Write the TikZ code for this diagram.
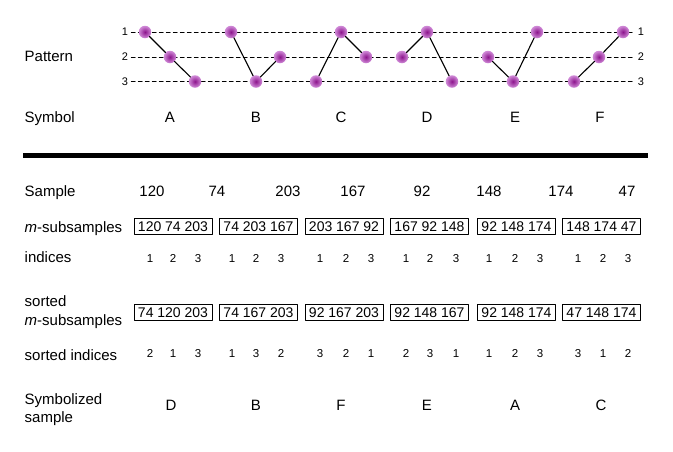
\documentclass[tikz,border=0pt]{standalone}
\usepackage{fontspec}
\setmainfont{Liberation Sans}
\usepackage{tikz}
\definecolor{ccqqcc}{rgb}{0.55,0.08,0.55}
\definecolor{eeaaee}{rgb}{0.82,0.55,0.85}
\tikzset{
  dot/.style={circle,inner sep=0pt,minimum size=12.5pt,shading=radial,inner color=ccqqcc,outer color=eeaaee},
  seg/.style={line width=1.1pt},
  guide/.style={line width=0.7pt,dash pattern=on 4pt off 3pt},
  num/.style={font=\fontsize{11}{13}\selectfont,inner sep=3pt},
  lab/.style={anchor=base west,inner sep=0pt,font=\fontsize{15}{18}\selectfont},
  val/.style={anchor=base,inner sep=0pt,font=\fontsize{15}{18}\selectfont},
  idx/.style={anchor=base,inner sep=0pt,font=\fontsize{11.5}{13}\selectfont},
  subbox/.style={draw,line width=0.8pt,inner sep=0pt,minimum width=78pt,minimum height=16pt,font=\fontsize{14}{16}\selectfont}
}
\begin{document}
\begin{tikzpicture}[line cap=round,line join=round,x=1pt,y=-1pt]
\useasboundingbox (0,0) rectangle (673,451);
% pattern levels
\node[num] (l1) at (125,32) {1};
\node[num] (l2) at (125,57) {2};
\node[num] (l3) at (125,81.5) {3};
\node[num] (r1) at (641,32) {1};
\node[num] (r2) at (641,57) {2};
\node[num] (r3) at (641,81.5) {3};
\draw[guide] (l1) -- (r1);
\draw[guide] (l2) -- (r2);
\draw[guide] (l3) -- (r3);
\node[lab] (pattern) at (24.5,61) {Pattern};
\node[lab] (symbol) at (24.5,122) {Symbol};
% the six patterns
\node[dot] (a1) at (145,32) {};
\node[dot] (a2) at (170,57) {};
\node[dot] (a3) at (195,81.5) {};
\node[dot] (b1) at (231,32) {};
\node[dot] (b2) at (256,81.5) {};
\node[dot] (b3) at (280,57) {};
\node[dot] (c1) at (316,81.5) {};
\node[dot] (c2) at (341,32) {};
\node[dot] (c3) at (366,57) {};
\node[dot] (d1) at (402,57) {};
\node[dot] (d2) at (427,32) {};
\node[dot] (d3) at (452,81.5) {};
\node[dot] (e1) at (488,57) {};
\node[dot] (e2) at (513,81.5) {};
\node[dot] (e3) at (537,32) {};
\node[dot] (f1) at (574,81.5) {};
\node[dot] (f2) at (599,57) {};
\node[dot] (f3) at (623,32) {};
\draw[seg] (a1) -- (a2); \draw[seg] (a2) -- (a3);
\draw[seg] (b1) -- (b2); \draw[seg] (b2) -- (b3);
\draw[seg] (c1) -- (c2); \draw[seg] (c2) -- (c3);
\draw[seg] (d1) -- (d2); \draw[seg] (d2) -- (d3);
\draw[seg] (e1) -- (e2); \draw[seg] (e2) -- (e3);
\draw[seg] (f1) -- (f2); \draw[seg] (f2) -- (f3);
\node[val] (sA) at (170,122) {A};
\node[val] (sB) at (256,122) {B};
\node[val] (sC) at (341,122) {C};
\node[val] (sD) at (427,122) {D};
\node[val] (sE) at (515,122) {E};
\node[val] (sF) at (600,122) {F};
% separator
\draw[line width=4.5pt,line cap=butt] (23,155.5) -- (648,155.5);
% sample
\node[lab] (sample) at (24.5,196) {Sample};
\node[val] (x1) at (152,196) {120};
\node[val] (x2) at (217,196) {74};
\node[val] (x3) at (288,196) {203};
\node[val] (x4) at (353,196) {167};
\node[val] (x5) at (422,196) {92};
\node[val] (x6) at (489,196) {148};
\node[val] (x7) at (561,196) {174};
\node[val] (x8) at (627,196) {47};
% m-subsamples
\node[lab] (msub) at (24.5,232.5) {\textit{m}-subsamples};
\node[subbox] (m1) at (173,226.3) {120 74 203};
\node[subbox] (m2) at (258.5,226.3) {74 203 167};
\node[subbox] (m3) at (344,226.3) {203 167 92};
\node[subbox] (m4) at (429.5,226.3) {167 92 148};
\node[subbox] (m5) at (516.5,226.3) {92 148 174};
\node[subbox] (m6) at (601.5,226.3) {148 174 47};
\node[lab] (indices) at (24.5,262) {indices};
\node[idx] (i11) at (150,262) {1}; \node[idx] (i12) at (173,262) {2}; \node[idx] (i13) at (198,262) {3};
\node[idx] (i21) at (232,262) {1}; \node[idx] (i22) at (256,262) {2}; \node[idx] (i23) at (281,262) {3};
\node[idx] (i31) at (320,262) {1}; \node[idx] (i32) at (346,262) {2}; \node[idx] (i33) at (371,262) {3};
\node[idx] (i41) at (406,262) {1}; \node[idx] (i42) at (430,262) {2}; \node[idx] (i43) at (456,262) {3};
\node[idx] (i51) at (489,262) {1}; \node[idx] (i52) at (515,262) {2}; \node[idx] (i53) at (540,262) {3};
\node[idx] (i61) at (578,262) {1}; \node[idx] (i62) at (603,262) {2}; \node[idx] (i63) at (628,262) {3};
% sorted m-subsamples
\node[lab] (sorted) at (24.5,306.5) {sorted};
\node[lab] (smsub) at (24.5,325) {\textit{m}-subsamples};
\node[subbox] (t1) at (173,312.3) {74 120 203};
\node[subbox] (t2) at (258.5,312.3) {74 167 203};
\node[subbox] (t3) at (344,312.3) {92 167 203};
\node[subbox] (t4) at (429.5,312.3) {92 148 167};
\node[subbox] (t5) at (516.5,312.3) {92 148 174};
\node[subbox] (t6) at (601.5,312.3) {47 148 174};
\node[lab] (sindices) at (24.5,360) {sorted indices};
\node[idx] (j11) at (150,357.5) {2}; \node[idx] (j12) at (173,357.5) {1}; \node[idx] (j13) at (198,357.5) {3};
\node[idx] (j21) at (232,357.5) {1}; \node[idx] (j22) at (256,357.5) {3}; \node[idx] (j23) at (281,357.5) {2};
\node[idx] (j31) at (320,357.5) {3}; \node[idx] (j32) at (346,357.5) {2}; \node[idx] (j33) at (371,357.5) {1};
\node[idx] (j41) at (406,357.5) {2}; \node[idx] (j42) at (430,357.5) {3}; \node[idx] (j43) at (456,357.5) {1};
\node[idx] (j51) at (489,357.5) {1}; \node[idx] (j52) at (515,357.5) {2}; \node[idx] (j53) at (540,357.5) {3};
\node[idx] (j61) at (578,357.5) {3}; \node[idx] (j62) at (603,357.5) {1}; \node[idx] (j63) at (628,357.5) {2};
% symbolized sample
\node[lab] (symbolized) at (24.5,404) {Symbolized};
\node[lab] (ssample) at (24.5,422) {sample};
\node[val] (yD) at (171,410.5) {D};
\node[val] (yB) at (256,410.5) {B};
\node[val] (yF) at (341,410.5) {F};
\node[val] (yE) at (427,410.5) {E};
\node[val] (yA) at (515,410.5) {A};
\node[val] (yC) at (601,410.5) {C};
\end{tikzpicture}
\end{document}
